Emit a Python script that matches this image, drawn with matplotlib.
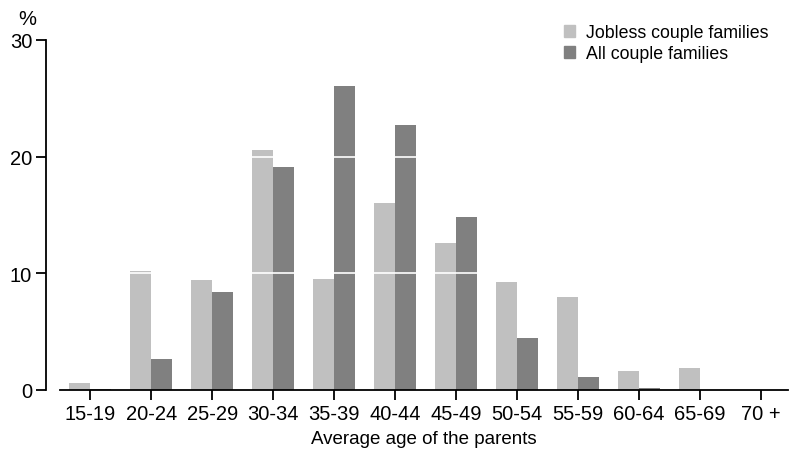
import numpy as np
import matplotlib.pyplot as plt
from matplotlib.patches import Patch

plt.rcParams['font.family'] = ['Liberation Sans', 'DejaVu Sans']

# Data
age_groups = ['15-19', '20-24', '25-29', '30-34', '35-39', '40-44',
              '45-49', '50-54', '55-59', '60-64', '65-69', '70 +']
jobless = [0.6, 10.2, 9.4, 20.6, 9.5, 16.0, 12.6, 9.3, 8.0, 1.6, 1.9, 0.0]
all_couples = [0.1, 2.7, 8.4, 19.1, 26.1, 22.7, 14.8, 4.5, 1.1, 0.2, 0.0, 0.0]

light = '#c0c0c0'
dark = '#808080'

fig = plt.figure(figsize=(7.9, 4.52), dpi=100)
ax = fig.add_axes([60 / 790, 1 - 391 / 452, 728 / 790, 350 / 452])

x = np.arange(len(age_groups))
w = 0.345
ax.bar(x - w / 2, jobless, w, color=light, zorder=2)
ax.bar(x + w / 2, all_couples, w, color=dark, zorder=2)

# white gridlines showing only over the bars
for yv in (10, 20):
    ax.axhline(yv, color='white', lw=1.2, zorder=3)

ax.set_xlim(-0.5, 11.45)
ax.set_ylim(0, 30)
ax.set_yticks([0, 10, 20, 30])
ax.set_xticks(x)
ax.set_xticklabels(age_groups)

for s in ('top', 'right'):
    ax.spines[s].set_visible(False)
ax.spines['left'].set_position(('outward', 10))
ax.spines['left'].set_linewidth(1.3)
ax.spines['bottom'].set_linewidth(1.3)
ax.tick_params(axis='both', direction='out', length=7, width=1.3,
               labelsize=14.5, colors='black')
ax.tick_params(axis='y', pad=3)
ax.tick_params(axis='x', pad=3)

ax.set_xlabel('Average age of the parents', fontsize=13.5, labelpad=5)
ax.text(-0.045, 1.035, '%', transform=ax.transAxes, fontsize=14.5,
        ha='center', va='bottom')

handles = [Patch(color=light, label='Jobless couple families'),
           Patch(color=dark, label='All couple families')]
ax.legend(handles=handles, loc='upper right', bbox_to_anchor=(0.995, 1.09),
          frameon=False, fontsize=12.8, handlelength=0.65, handleheight=0.65,
          handletextpad=0.6, labelspacing=0.2)

fig.savefig('out.png', dpi=100)
